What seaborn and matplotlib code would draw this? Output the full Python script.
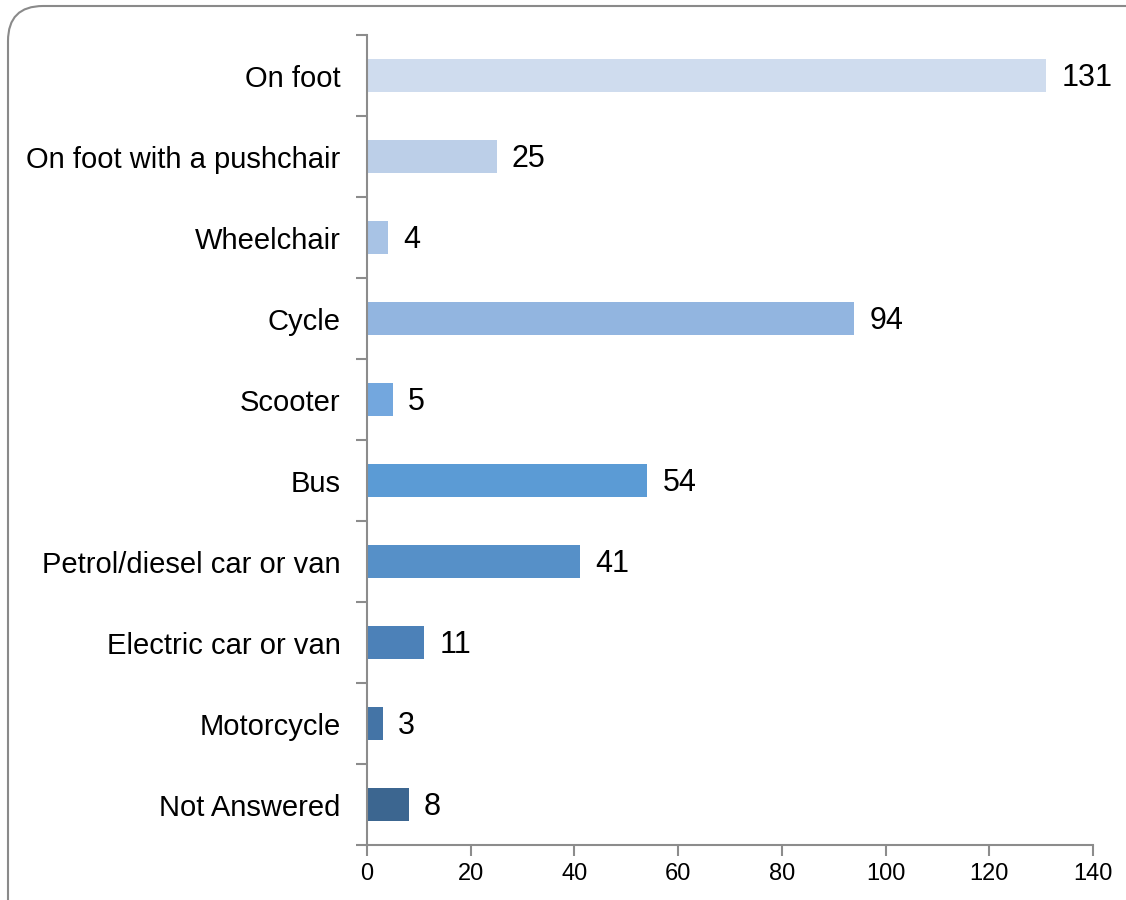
import numpy as np
import pandas as pd
import matplotlib
matplotlib.use("Agg")
import matplotlib.pyplot as plt
from matplotlib.patches import FancyBboxPatch
import seaborn as sns

categories = ["On foot", "On foot with a pushchair", "Wheelchair", "Cycle", "Scooter",
              "Bus", "Petrol/diesel car or van", "Electric car or van", "Motorcycle",
              "Not Answered"]
counts = [131, 25, 4, 94, 5, 54, 41, 11, 3, 8]
bar_colors = ["#CFDCEE", "#BCCFE8", "#A8C3E5", "#92B5E0", "#73A7DE",
              "#5B9BD5", "#5690C8", "#4C81B8", "#4474A6", "#3C6690"]
x_ticks = [0, 20, 40, 60, 80, 100, 120, 140]

df = pd.DataFrame({"mode": categories, "count": counts})

sns.set_style("white")
plt.rcParams["font.family"] = ["Liberation Sans", "DejaVu Sans"]
plt.rcParams["text.color"] = "black"
plt.rcParams["xtick.color"] = "#8C8C8C"
plt.rcParams["ytick.color"] = "#8C8C8C"
plt.rcParams["xtick.labelcolor"] = "black"
plt.rcParams["ytick.labelcolor"] = "black"

fig = plt.figure(figsize=(11.26, 9), dpi=100)
ax = fig.add_axes([0.326, 0.0611, 0.6447, 0.9])

sns.barplot(data=df, x="count", y="mode", hue="mode", palette=bar_colors,
            legend=False, width=0.4, orient="h", ax=ax, saturation=1, linewidth=0)

ax.set_xlim(0, 140)
ax.set_ylim(len(categories) - 0.5, -0.5)
ax.set_xticks(x_ticks)
ax.set_xticklabels([str(t) for t in x_ticks], fontsize=17, color="black")
ax.set_yticks(range(len(categories)))
ax.set_yticklabels(categories, fontsize=21, color="black")
ax.set_yticks(np.arange(-0.5, len(categories), 1), minor=True)
ax.tick_params(axis="y", which="major", left=False, length=0, pad=19)
ax.tick_params(axis="y", which="minor", left=True, length=8, width=1.5, color="#8C8C8C")
ax.tick_params(axis="x", which="major", bottom=True, length=8, width=1.5,
               color="#8C8C8C", pad=5)
ax.set_xlabel("")
ax.set_ylabel("")

for side in ["top", "right"]:
    ax.spines[side].set_visible(False)
for side in ["left", "bottom"]:
    ax.spines[side].set_color("#8C8C8C")
    ax.spines[side].set_linewidth(1.5)

for i, v in enumerate(counts):
    ax.annotate(str(v), (v, i), xytext=(11, -2), textcoords="offset points",
                va="center", ha="left", fontsize=22, color="black")

# rounded outer frame
frame = FancyBboxPatch((0.08, -0.6), 11.6, 9.54, boxstyle="round,pad=0,rounding_size=0.35",
                       transform=fig.dpi_scale_trans, fill=False,
                       edgecolor="#8A8A8A", linewidth=1.5)
fig.patches.append(frame)

fig.savefig("out.png", dpi=100)
